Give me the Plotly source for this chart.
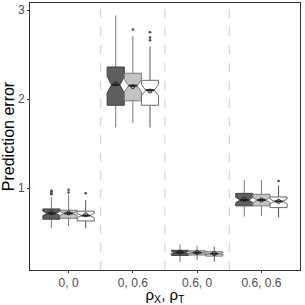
import plotly.graph_objects as go
import math

categories = ["0, 0", "0, 0.6", "0.6, 0", "0.6, 0.6"]

# Series 1 (dark grey)
s1_lower = [0.55, 1.68, 0.17, 0.68]
s1_q1 = [0.65, 1.93, 0.243, 0.80]
s1_med = [0.715, 2.16, 0.277, 0.865]
s1_q3 = [0.765, 2.36, 0.30, 0.94]
s1_upper = [0.90, 2.94, 0.367, 1.09]
s1_mean = [0.72, 2.17, 0.28, 0.87]
s1_out = [[0.93, 0.945, 0.96, 0.97], [], [], []]

# Series 2 (light grey)
s2_lower = [0.57, 1.73, 0.19, 0.685]
s2_q1 = [0.66, 1.98, 0.247, 0.80]
s2_med = [0.715, 2.15, 0.273, 0.865]
s2_q3 = [0.75, 2.29, 0.295, 0.93]
s2_upper = [0.92, 2.71, 0.352, 1.09]
s2_mean = [0.72, 2.14, 0.275, 0.865]
s2_out = [[0.95, 0.98], [2.78], [], []]

# Series 3 (white)
s3_lower = [0.547, 1.68, 0.172, 0.67]
s3_q1 = [0.63, 1.93, 0.236, 0.78]
s3_med = [0.69, 2.10, 0.262, 0.85]
s3_q3 = [0.74, 2.21, 0.284, 0.90]
s3_upper = [0.865, 2.59, 0.34, 1.03]
s3_mean = [0.70, 2.09, 0.263, 0.85]
s3_out = [[0.94], [2.66, 2.69, 2.75], [], [1.08]]

n_obs = 50

series = [
    dict(lower=s1_lower, q1=s1_q1, med=s1_med, q3=s1_q3, upper=s1_upper, mean=s1_mean, out=s1_out,
         fill="#5e5e5e", line="#3f3f3f", whisk="#7a7a7a"),
    dict(lower=s2_lower, q1=s2_q1, med=s2_med, q3=s2_q3, upper=s2_upper, mean=s2_mean, out=s2_out,
         fill="#c3c3c3", line="#7a7a7a", whisk="#7a7a7a"),
    dict(lower=s3_lower, q1=s3_q1, med=s3_med, q3=s3_q3, upper=s3_upper, mean=s3_mean, out=s3_out,
         fill="#ffffff", line="#6a6a6a", whisk="#555555"),
]

fig = go.Figure()
bw = 0.8 / 3
offsets = [-bw, 0.0, bw]

for si, s in enumerate(series):
    for ci in range(len(categories)):
        c = ci + 1 + offsets[si]
        q1, med, q3 = s["q1"][ci], s["med"][ci], s["q3"][ci]
        lo, hi = s["lower"][ci], s["upper"][ci]
        nh = 1.58 * (q3 - q1) / math.sqrt(n_obs)
        nlo, nhi = med - nh, med + nh
        x0, x1 = c - bw / 2, c + bw / 2
        xn0, xn1 = c - bw / 4, c + bw / 4
        fig.add_trace(go.Scatter(x=[c, c, None, c, c], y=[q3, hi, None, q1, lo], mode="lines",
                                 line=dict(color=s["whisk"], width=1), showlegend=False, hoverinfo="skip"))
        fig.add_trace(go.Scatter(
            x=[x0, x0, xn0, x0, x0, x1, x1, xn1, x1, x1, x0],
            y=[q1, nlo, med, nhi, q3, q3, nhi, med, nlo, q1, q1],
            mode="lines", fill="toself", fillcolor=s["fill"],
            line=dict(color=s["line"], width=1), showlegend=False, hoverinfo="skip"))
        fig.add_trace(go.Scatter(x=[xn0, xn1], y=[med, med], mode="lines",
                                 line=dict(color="#222222", width=2), showlegend=False, hoverinfo="skip"))
        fig.add_trace(go.Scatter(x=[c], y=[s["mean"][ci]], mode="markers",
                                 marker=dict(symbol="circle-open-dot", size=4, color="#222222",
                                             line=dict(width=1)),
                                 showlegend=False, hoverinfo="skip"))
        if s["out"][ci]:
            fig.add_trace(go.Scatter(x=[c] * len(s["out"][ci]), y=s["out"][ci], mode="markers",
                                     marker=dict(size=2.5, color="#444444"),
                                     showlegend=False, hoverinfo="skip"))

for k in range(1, len(categories)):
    fig.add_shape(type="line", xref="x", yref="paper", x0=k + 0.5, x1=k + 0.5, y0=0, y1=1,
                  line=dict(color="#cccccc", width=1, dash="dash"), layer="below")

fig.update_layout(
    width=305, height=305,
    margin=dict(l=30, r=5, t=3, b=35),
    plot_bgcolor="white", paper_bgcolor="white",
    font=dict(family="Liberation Sans, Arial", color="#4d4d4d"),
)
fig.update_xaxes(
    automargin=False,
    range=[0.4, 4.6], tickmode="array", tickvals=[1, 2, 3, 4], ticktext=categories,
    showgrid=False, zeroline=False, showline=True, linecolor="#333333", linewidth=1, mirror=True,
    ticks="outside", ticklen=2, tickcolor="#333333", tickfont=dict(size=12, color="#4d4d4d"),
    title=dict(text="ρ<sub>X</sub>, ρ<sub>T</sub>", font=dict(size=15, color="black"), standoff=0),
)
fig.update_yaxes(
    automargin=False,
    range=[0.079, 3.079], tickvals=[1, 2, 3],
    showgrid=False, zeroline=False, showline=True, linecolor="#333333", linewidth=1, mirror=True,
    ticks="outside", ticklen=2, tickcolor="#333333", tickfont=dict(size=12, color="#4d4d4d"),
    title=dict(text="Prediction error", font=dict(size=16, color="black"), standoff=2),
)

fig.write_html("out.html", config={"displayModeBar": False},
               post_script="document.body.style.margin='0';document.body.style.padding='0';")
